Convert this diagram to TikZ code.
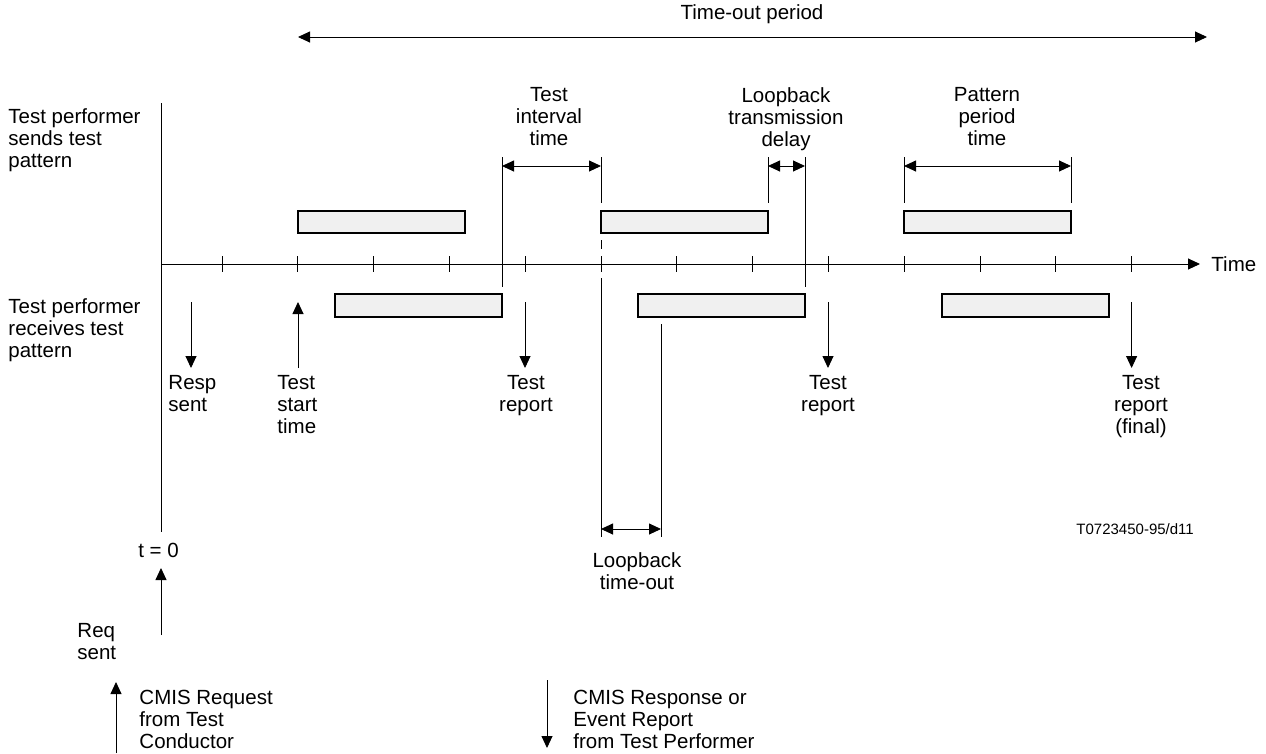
\documentclass[tikz,border=0pt]{standalone}
\usepackage{fontspec}
\setmainfont{Liberation Sans}
\usetikzlibrary{arrows.meta}

\begin{document}
\begin{tikzpicture}[x=1pt, y=-1pt, line width=0.9pt,
    lbl/.style={font=\fontsize{20.5}{22}\selectfont, inner sep=0pt},
    pbox/.style={draw, fill=black!6, line width=1.1pt},
    ev/.style={-{Triangle[length=12pt,width=11pt]}},
    span/.style={{Triangle[length=12pt,width=11pt]}-{Triangle[length=12pt,width=11pt]}}]
  \useasboundingbox (0,0) rectangle (1266,753);

  % time axis
  \coordinate (orig) at (161,264);
  \coordinate (tmax) at (1200,264);
  \draw[ev] (orig) -- (tmax);
  \node[lbl, anchor=base west] (tlbl) at (1211,271.5) {Time};
  \coordinate (vtop) at (161,103);
  \coordinate (vbot) at (161,532);
  \draw (vtop) -- (vbot);
  \foreach \i in {0,...,12} {
    \coordinate (k\i) at (222+75.8*\i,264);
    \draw ([yshift=8pt]k\i) -- ([yshift=-8pt]k\i);
  }

  % test patterns sent / received
  \foreach \x in {298,601,904} \draw[pbox] (\x,211) rectangle +(167,22);
  \foreach \x in {335,638,942} \draw[pbox] (\x,294) rectangle +(167,23);

  % marker lines
  \draw (502,157) -- (502,287);
  \draw (805,157) -- (805,287);
  \draw (601,157) -- (601,203) (601,240) -- (601,249) (601,278) -- (601,537);
  \foreach \x in {768,904,1071} \draw (\x,157) -- (\x,203);
  \draw (661,324) -- (661,537);

  % spans
  \coordinate (to-a) at (298,37);   \coordinate (to-b) at (1207,37);
  \coordinate (ti-a) at (502,166);  \coordinate (ti-b) at (601,166);
  \coordinate (lt-a) at (768,166);  \coordinate (lt-b) at (805,166);
  \coordinate (pp-a) at (904,166);  \coordinate (pp-b) at (1071,166);
  \coordinate (lo-a) at (601,529);  \coordinate (lo-b) at (661,529);
  \draw[span] (to-a) -- (to-b);
  \draw[span] (ti-a) -- (ti-b);
  \draw[span] (lt-a) -- (lt-b);
  \draw[span] (pp-a) -- (pp-b);
  \draw[span] (lo-a) -- (lo-b);

  \node[lbl, anchor=base] (tolbl) at (752,19) {Time-out period};
  \node[lbl, align=center, anchor=north] (tilbl) at (549,87) {Test\\interval\\time};
  \node[lbl, align=center, anchor=north] (ltlbl) at (786,87) {Loopback\\transmission\\delay};
  \node[lbl, align=center, anchor=north] (pplbl) at (987,87) {Pattern\\period\\time};
  \node[lbl, align=center, anchor=north] (lolbl) at (637,552) {Loopback\\time-out};

  \node[lbl, align=left, anchor=north west] (sends) at (8,108) {Test performer\\sends test\\pattern};
  \node[lbl, align=left, anchor=north west] (recv) at (8,298) {Test performer\\receives test\\pattern};

  % events on the time axis
  \draw[ev] (191,302) -- (191,368);
  \node[lbl, align=left, anchor=north west] (resp) at (168,375) {Resp\\sent};
  \draw[ev] (298,368) -- (298,302);
  \node[lbl, align=left, anchor=north west] (start) at (277,375) {Test\\start\\time};
  \foreach \x in {525,828,1131.6} \draw[ev] (\x,302) -- (\x,368);
  \node[lbl, align=center, anchor=north] (rep-a) at (526,375) {Test\\report};
  \node[lbl, align=center, anchor=north] (rep-b) at (828,375) {Test\\report};
  \node[lbl, align=center, anchor=north] (rep-c) at (1141,375) {Test\\report\\(final)};

  \node[lbl, anchor=north] (tzero) at (158.5,543) {t = 0};
  \coordinate (req-a) at (161,635);
  \coordinate (req-b) at (161,568);
  \draw[ev] (req-a) -- (req-b);
  \node[lbl, align=left, anchor=north west] (req) at (77,623) {Req\\sent};

  % legend
  \draw[ev] (116,753) -- (116,682);
  \node[lbl, align=left, anchor=north west] (leg-req) at (139,690) {CMIS Request\\from Test\\Conductor};
  \draw[ev] (547,680) -- (547,748);
  \node[lbl, align=left, anchor=north west] (leg-resp) at (573,690) {CMIS Response or\\Event Report\\from Test Performer};

  \node[font=\fontsize{15}{18}\selectfont, inner sep=0pt, anchor=north west] (ref) at (1076,523) {T0723450-95/d11};
\end{tikzpicture}
\end{document}
